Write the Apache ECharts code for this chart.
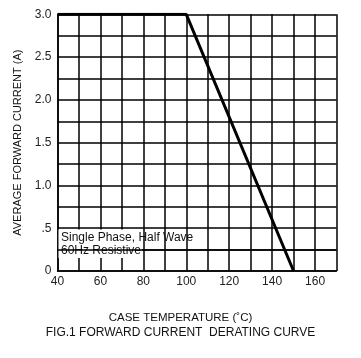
<!DOCTYPE html>
<html><head><meta charset="utf-8">
<script src="https://cdn.jsdelivr.net/npm/echarts@6/dist/echarts.min.js"></script>
<style>html,body{margin:0;padding:0;background:#fff}#c{width:361px;height:358px}</style>
</head><body><div id="c"></div>
<script>
const temps = [40, 100, 150];
const currents = [3.0, 3.0, 0];
const xTickLabels = {40:'40',60:'60',80:'80',100:'100',120:'120',140:'140',160:'160'};
const yTickLabels = {'0':'0','0.5':'.5','1':'1.0','1.5':'1.5','2':'2.0','2.5':'2.5','3':'3.0'};
const font = 'Liberation Sans, Arial, sans-serif';
const chart = echarts.init(document.getElementById('c'), null, {renderer:'canvas'});
chart.setOption({
  animation:false,
  backgroundColor:'#fff',
  grid:{left:57.5, right:24.5, top:14.3, bottom:87},
  title:[
    {text:'CASE TEMPERATURE (\u02daC)', left:'center', top:312, padding:0,
      textStyle:{fontFamily:font, fontSize:11.5, fontWeight:'normal', color:'#111'}},
    {text:'FIG.1 FORWARD CURRENT  DERATING CURVE', left:'center', top:327, padding:0,
      textStyle:{fontFamily:font, fontSize:12, fontWeight:'normal', color:'#111'}}
  ],
  xAxis:{type:'value', min:40, max:170, interval:10,
    axisLine:{lineStyle:{color:'#000', width:1.5}},
    axisTick:{show:false},
    splitLine:{show:true, lineStyle:{color:'#000', width:1.5}},
    axisLabel:{fontFamily:font, fontSize:12, color:'#222', margin:5,
      formatter:v=>xTickLabels[v]||''}},
  yAxis:{type:'value', min:0, max:3, interval:0.25,
    name:'AVERAGE FORWARD CURRENT (A)', nameLocation:'middle', nameGap:30,
    nameTextStyle:{fontFamily:font, fontSize:11, color:'#111'},
    axisLine:{show:true, lineStyle:{color:'#000', width:1.5}},
    axisTick:{show:false},
    splitLine:{show:true, lineStyle:{color:'#000', width:1.5}},
    axisLabel:{fontFamily:font, fontSize:12, color:'#222', margin:6,
      formatter:v=>yTickLabels[String(+v.toFixed(2))]||''}},
  graphic:[
    {type:'rect', z:1, shape:{x:58.5, y:229.5, width:83.5, height:28.5}, style:{fill:'#fff'}},
    {type:'text', z:2, left:61, top:232, style:{text:'Single Phase, Half Wave', font:'12px '+font, fill:'#111'}},
    {type:'text', z:2, left:61, top:245, style:{text:'60Hz Resistive', font:'12px '+font, fill:'#111'}}
  ],
  series:[{type:'line', data:temps.map((t,i)=>[t,currents[i]]), symbol:'none',
    lineStyle:{color:'#000', width:3}, z:5,
    markLine:{silent:true, symbol:'none', label:{show:false},
      lineStyle:{color:'#000', width:1.5, type:'solid'}, data:[{yAxis:0.25}]}}]
});
</script></body></html>
